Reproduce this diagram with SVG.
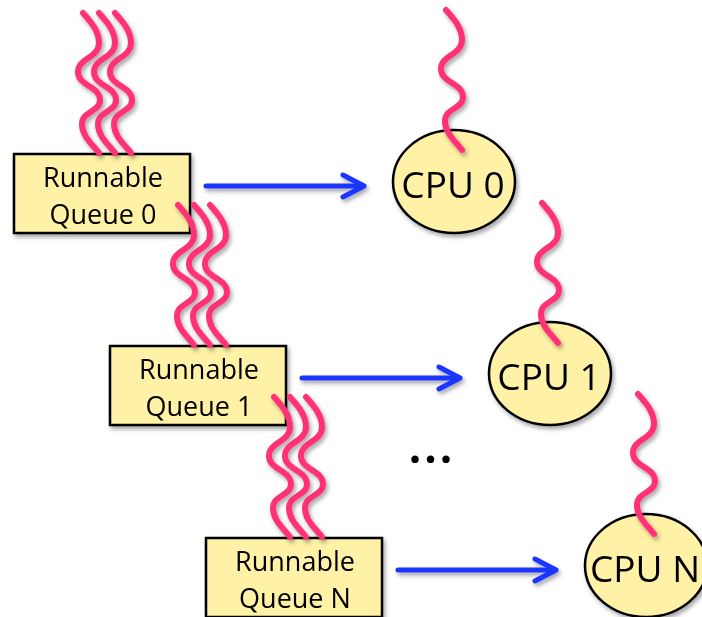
<svg xmlns="http://www.w3.org/2000/svg" xmlns:xlink="http://www.w3.org/1999/xlink" width="702" height="617" viewBox="0 0 702 617">
  <defs>
    <filter id="shadow" x="-20%" y="-20%" width="150%" height="150%">
      <feDropShadow dx="2" dy="3" stdDeviation="2" flood-color="#000" flood-opacity="0.35"/>
    </filter>
    <!-- one wavy thread, drawn from its top end -->
    <path id="thread" d="M0,0 C8,9 16,18 16,30 C16,45 -5,45 -5,59 C-5,73 17,73 17,87 C17,99 -1,98 -1,111 C-1,123 9,131 16,140"/>
    <g id="arrow">
      <line x1="0" y1="0" x2="157" y2="0"/>
      <polyline points="137,-11 158,0 137,11"/>
    </g>
  </defs>
  <style>
    .queue rect { fill: #FFF2A6; stroke: #000; stroke-width: 2.5; }
    .cpu ellipse { fill: #FFF2A6; stroke: #000; stroke-width: 2.5; }
    .label { font-family: "Open Sans", "Liberation Sans", sans-serif; fill: #000; text-anchor: middle; }
    .qtext { font-size: 27px; }
    .ctext { font-size: 37px; }
    .threads use { fill: none; stroke: #FF3377; stroke-width: 6; stroke-linecap: round; }
    .connectors use { fill: none; stroke: #1A35FF; stroke-width: 5; stroke-linecap: round; stroke-linejoin: round; }
  </style>

  <rect width="702" height="617" fill="#fff"/>

  <!-- run queues -->
  <g id="queue0" class="queue" filter="url(#shadow)">
    <rect x="14" y="154" width="176" height="79"/>
    <text class="label qtext" x="103" y="187">Runnable</text>
    <text class="label qtext" x="103" y="224">Queue 0</text>
  </g>
  <g id="queue1" class="queue" filter="url(#shadow)">
    <rect x="110" y="346" width="176" height="79"/>
    <text class="label qtext" x="199" y="379">Runnable</text>
    <text class="label qtext" x="199" y="416">Queue 1</text>
  </g>
  <g id="queueN" class="queue" filter="url(#shadow)">
    <rect x="206" y="538" width="176" height="79"/>
    <text class="label qtext" x="295" y="571">Runnable</text>
    <text class="label qtext" x="295" y="608">Queue N</text>
  </g>

  <!-- processors -->
  <g id="cpu0" class="cpu" filter="url(#shadow)">
    <ellipse cx="454" cy="181.5" rx="61" ry="51.5"/>
    <text class="label ctext" x="453" y="198">CPU 0</text>
  </g>
  <g id="cpu1" class="cpu" filter="url(#shadow)">
    <ellipse cx="550" cy="373.5" rx="61" ry="51.5"/>
    <text class="label ctext" x="549" y="390">CPU 1</text>
  </g>
  <g id="cpuN" class="cpu" filter="url(#shadow)">
    <ellipse cx="646" cy="565.5" rx="61" ry="51.5"/>
    <text class="label ctext" x="645" y="582">CPU N</text>
  </g>

  <!-- threads waiting in queues and running on CPUs -->
  <g id="threads" class="threads" filter="url(#shadow)">
    <use href="#thread" x="83" y="13"/>
    <use href="#thread" x="99" y="13"/>
    <use href="#thread" x="115" y="13"/>
    <use href="#thread" x="178" y="205"/>
    <use href="#thread" x="194" y="205"/>
    <use href="#thread" x="210" y="205"/>
    <use href="#thread" x="274" y="397"/>
    <use href="#thread" x="290" y="397"/>
    <use href="#thread" x="306" y="397"/>
    <use href="#thread" x="446" y="10"/>
    <use href="#thread" x="542" y="203"/>
    <use href="#thread" x="638" y="394"/>
  </g>

  <!-- queue to CPU connectors -->
  <g id="connectors" class="connectors" filter="url(#shadow)">
    <use href="#arrow" x="206" y="186"/>
    <use href="#arrow" x="302" y="378"/>
    <use href="#arrow" x="398" y="570"/>
  </g>

  <text id="ellipsis" class="label" x="432" y="463" style="font-size:44px;font-weight:bold;letter-spacing:3px">...</text>
</svg>
